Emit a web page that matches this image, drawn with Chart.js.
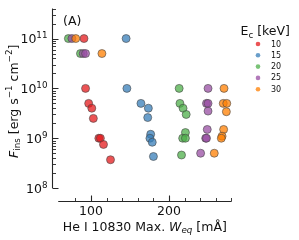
<!DOCTYPE html>
<html><head><meta charset="utf-8">
<script src="https://cdn.jsdelivr.net/npm/chart.js@4"></script>
<style>html,body{margin:0;padding:0;background:#fff;overflow:hidden}canvas{display:block}</style>
</head><body>
<canvas id="c" width="299" height="240"></canvas>
<script>
// ---- data ----
const seriesLabels = ['10', '15', '20', '25', '30'];
const x10 = [91, 93, 97, 101, 103, 110, 112, 116, 125];
const y10 = [1e11, 1e10, 5e9, 4e9, 2.5e9, 1e9, 1e9, 7.5e8, 3.7e8];
const x15 = [145, 146, 164, 173.5, 172.7, 176.5, 175.5, 178.5, 180];
const y15 = [1e11, 1e10, 5e9, 4e9, 2.6e9, 1.2e9, 1e9, 8.3e8, 4.3e8];
const x20 = [71, 86.5, 213, 214, 218, 222, 221, 217.5, 221, 216];
const y20 = [1e11, 5e10, 1e10, 5e9, 4e9, 3e9, 1.3e9, 1e9, 1e9, 4.6e8];
const x25 = [75.5, 90, 93, 250, 248, 250, 250, 249, 247, 248, 240.5];
const y25 = [1e11, 5e10, 5e10, 1e10, 5e9, 5e9, 3.5e9, 1.5e9, 1e9, 1e9, 5e8];
const x30 = [80.5, 114, 270.5, 269.5, 274, 273.5, 270, 268, 267, 258];
const y30 = [1e11, 5e10, 1e10, 5e9, 5e9, 3.4e9, 1.5e9, 1.1e9, 1e9, 5e8];

const xMajorTicks = [100, 200];
const xMinorTicks = [80, 120, 140, 160, 180, 220, 240, 260, 280];
const yMajorTicks = [1e8, 1e9, 1e10, 1e11];
const yMajorExp = ['8', '9', '10', '11'];
const yMinorTicks = [2e8,3e8,4e8,5e8,6e8,7e8,8e8,9e8,2e9,3e9,4e9,5e9,6e9,7e9,8e9,9e9,
                     2e10,3e10,4e10,5e10,6e10,7e10,8e10,9e10,2e11,3e11,4e11];

// ---- style ----
const colors = ['rgba(228,26,28,0.75)', 'rgba(55,126,184,0.75)', 'rgba(77,175,74,0.75)',
                'rgba(152,78,163,0.75)', 'rgba(255,127,0,0.75)'];
const solid = ['#e41a1c', '#377eb8', '#4daf4a', '#984ea3', '#ff7f00'];
const FONT = '"DejaVu Sans"';
const AX = '#262626';

const xsAll = [x10, x15, x20, x25, x30];
const ysAll = [y10, y15, y20, y25, y30];

const datasets = seriesLabels.map((lab, i) => ({
  label: lab,
  data: xsAll[i].map((x, j) => ({x: x, y: ysAll[i][j]})),
  backgroundColor: colors[i],
  borderColor: 'rgba(70,70,70,0.85)',
  borderWidth: 0.7,
  pointRadius: 4,
  order: seriesLabels.length - 1 - i
}));

function partFont(p, size) {
  const s = (p.sub || p.sup) ? size * 0.7 : size;
  return (p.it ? 'italic ' : '') + s + 'px ' + FONT;
}
function richWidth(ctx, parts, size) {
  let w = 0;
  for (const p of parts) { ctx.font = partFont(p, size); w += ctx.measureText(p.t).width; }
  return w;
}
function drawRich(ctx, parts, x, y, size, align) {
  const w = richWidth(ctx, parts, size);
  let cx = align === 'center' ? x - w / 2 : (align === 'right' ? x - w : x);
  ctx.textAlign = 'left';
  ctx.textBaseline = 'alphabetic';
  for (const p of parts) {
    ctx.font = partFont(p, size);
    let dy = 0;
    if (p.sub) dy = size * 0.22;
    if (p.sup) dy = -size * 0.42;
    ctx.fillText(p.t, cx, y + dy);
    cx += ctx.measureText(p.t).width;
  }
}

const axesPlugin = {
  id: 'axesPlugin',
  afterDatasetsDraw(chart) {
    const ctx = chart.ctx;
    const xs = chart.scales.x, ys = chart.scales.y;
    const ca = chart.chartArea;
    ctx.save();
    ctx.strokeStyle = AX;
    ctx.fillStyle = AX;
    ctx.lineWidth = 1.1;
    // y spine
    const yx = Math.round(ca.left) + 0.5;
    ctx.beginPath();
    ctx.moveTo(yx, ys.getPixelForValue(1e8));
    ctx.lineTo(yx, ys.getPixelForValue(4e11));
    ctx.stroke();
    // y ticks
    ctx.beginPath();
    for (const v of yMajorTicks) { const p = Math.round(ys.getPixelForValue(v)) + 0.5; ctx.moveTo(yx, p); ctx.lineTo(yx + 6, p); }
    ctx.stroke();
    ctx.lineWidth = 0.9;
    ctx.beginPath();
    for (const v of yMinorTicks) { const p = Math.round(ys.getPixelForValue(v)) + 0.5; ctx.moveTo(yx, p); ctx.lineTo(yx + 3.5, p); }
    ctx.stroke();
    // y tick labels
    ctx.fillStyle = '#111';
    yMajorTicks.forEach((v, i) => {
      const p = ys.getPixelForValue(v);
      drawRich(ctx, [{t: '10'}, {t: yMajorExp[i], sup: 1}], yx - 5, p + 4.8, 12.5, 'right');
    });
    // x spine
    const xy = Math.round(ca.bottom) + 0.5;
    ctx.lineWidth = 1.1;
    ctx.beginPath();
    ctx.moveTo(xs.getPixelForValue(58), xy);
    ctx.lineTo(xs.getPixelForValue(280), xy);
    ctx.stroke();
    ctx.beginPath();
    for (const v of xMajorTicks) { const p = Math.round(xs.getPixelForValue(v)) + 0.5; ctx.moveTo(p, xy); ctx.lineTo(p, xy - 6); }
    ctx.stroke();
    ctx.lineWidth = 0.9;
    ctx.beginPath();
    for (const v of xMinorTicks) { const p = Math.round(xs.getPixelForValue(v)) + 0.5; ctx.moveTo(p, xy); ctx.lineTo(p, xy - 3.5); }
    ctx.stroke();
    // x tick labels
    ctx.font = '12.5px ' + FONT;
    ctx.textAlign = 'center';
    ctx.textBaseline = 'alphabetic';
    for (const v of xMajorTicks) ctx.fillText(String(v), xs.getPixelForValue(v), xy + 13);
    // x title
    drawRich(ctx, [{t: 'He I 10830 Max. '}, {t: 'W', it: 1}, {t: 'eq', sub: 1, it: 1}, {t: ' [mÅ]'}],
             (xs.getPixelForValue(58) + xs.getPixelForValue(280)) / 2, 230.5, 12.5, 'center');
    // y title
    ctx.save();
    ctx.translate(17.5, (ys.getPixelForValue(1e8) + ys.getPixelForValue(4e11)) / 2 + 3);
    ctx.rotate(-Math.PI / 2);
    drawRich(ctx, [{t: 'F', it: 1}, {t: 'ins', sub: 1}, {t: ' [erg s'}, {t: '−1', sup: 1}, {t: ' cm'}, {t: '−2', sup: 1}, {t: ']'}],
             0, 0, 12.5, 'center');
    ctx.restore();
    // panel label
    ctx.font = '12.5px ' + FONT;
    ctx.textAlign = 'left';
    ctx.fillText('(A)', 63, 24.5);
    // legend
    drawRich(ctx, [{t: 'E'}, {t: 'c', sub: 1}, {t: ' [keV]'}], 240.5, 35, 12.5, 'left');
    seriesLabels.forEach((lab, i) => {
      const ly = 44 + i * 11.3;
      ctx.beginPath();
      ctx.fillStyle = colors[i];
      ctx.arc(258, ly, 2.3, 0, Math.PI * 2);
      ctx.fill();
      ctx.fillStyle = '#111';
      ctx.font = '8px ' + FONT;
      ctx.textAlign = 'left';
      ctx.textBaseline = 'middle';
      ctx.fillText(lab, 271, ly + 0.5);
    });
    ctx.restore();
  }
};

new Chart(document.getElementById('c'), {
  type: 'scatter',
  data: {datasets: datasets},
  options: {
    responsive: false,
    devicePixelRatio: 1,
    animation: false,
    clip: false,
    layout: {padding: {left: 52, right: 66, top: 8, bottom: 39}},
    plugins: {legend: {display: false}, tooltip: {enabled: false}},
    scales: {
      x: {type: 'linear', min: 50, max: 282, display: false},
      y: {type: 'logarithmic', min: 5.5e7, max: 4.1e11, display: false}
    }
  },
  plugins: [axesPlugin]
});
</script>
</body></html>
